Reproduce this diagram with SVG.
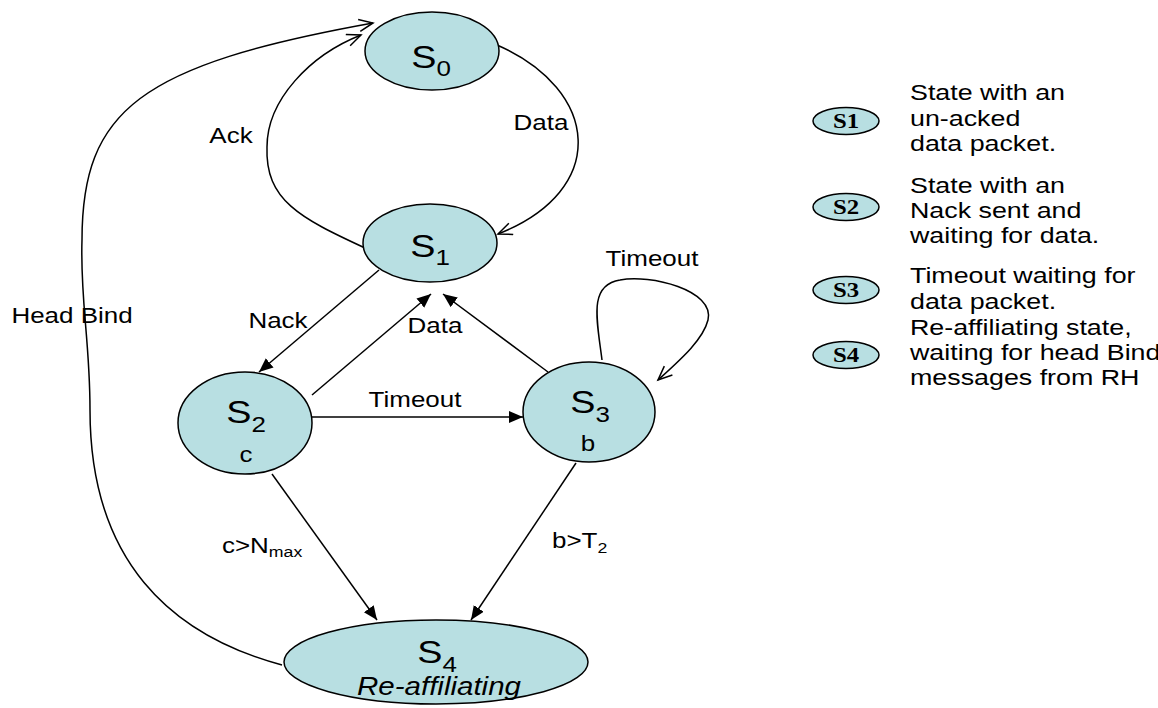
<svg xmlns="http://www.w3.org/2000/svg" width="1158" height="708" viewBox="0 0 1158 708">
  <style>
    .state { fill: #b8dfe2; stroke: #000; stroke-width: 1.5; }
    .edge { fill: none; stroke: #000; stroke-width: 1.5; }
    text { font-family: "Liberation Sans", Arial, sans-serif; fill: #000; }
    .lbl { font-size: 22px; text-anchor: middle; }
    .lbl-start { font-size: 22px; text-anchor: start; }
    .sname { font-size: 32px; text-anchor: middle; }
    .sub { font-size: 22px; }
    .esub { font-size: 15px; }
    .var { font-size: 22px; text-anchor: middle; }
    .ital { font-size: 25px; font-style: italic; text-anchor: middle; }
    .key { font-family: "Liberation Serif", "Times New Roman", serif; font-weight: bold; font-size: 21px; text-anchor: middle; }
    .note { font-size: 22px; }
  </style>
  <defs>
    <marker id="solid" markerUnits="userSpaceOnUse" markerWidth="16" markerHeight="14" refX="14" refY="6" orient="auto">
      <path d="M0,0 L14,6 L0,12 Z" fill="#000"/>
    </marker>
    <marker id="open" markerUnits="userSpaceOnUse" markerWidth="18" markerHeight="16" refX="15" refY="7" orient="auto">
      <path d="M1,1 L15,7 L1,13" fill="none" stroke="#000" stroke-width="1.5"/>
    </marker>
  </defs>

  <rect width="1158" height="708" fill="#fff"/>

  <!-- transitions -->
  <g id="connectors">
    <!-- S0 -> S1 : Data -->
    <path class="edge" d="M497,45 C600,90 610,190 498,234" marker-end="url(#open)"/>
    <!-- S1 -> S0 : Ack -->
    <path class="edge" d="M365,248 C300,218 265,200 267,147 C267,100 310,55 361,35" marker-end="url(#open)"/>
    <!-- S4 -> S0 : Head Bind -->
    <path class="edge" d="M282,665 C170,635 90,560 90,410 C90,340 80,300 82,240 C82,110 140,65 373,23" marker-end="url(#open)"/>
    <!-- S3 -> S3 : Timeout -->
    <path class="edge" d="M602,360 C597,320 588,285 620,280 C650,274 715,290 708,320 C703,340 680,360 658,380" marker-end="url(#open)"/>
    <!-- S1 -> S2 : Nack -->
    <line class="edge" x1="379" y1="270" x2="259" y2="372" marker-end="url(#solid)"/>
    <!-- S2 -> S1 : Data -->
    <line class="edge" x1="312" y1="395" x2="431" y2="294" marker-end="url(#solid)"/>
    <!-- S3 -> S1 -->
    <line class="edge" x1="548" y1="372" x2="443" y2="294" marker-end="url(#solid)"/>
    <!-- S2 -> S3 : Timeout -->
    <line class="edge" x1="312" y1="417" x2="523" y2="417" marker-end="url(#solid)"/>
    <!-- S2 -> S4 -->
    <line class="edge" x1="272" y1="474" x2="377" y2="620" marker-end="url(#solid)"/>
    <!-- S3 -> S4 -->
    <line class="edge" x1="576" y1="463" x2="471" y2="620" marker-end="url(#solid)"/>

    <text class="lbl" transform="matrix(1.18 0 0 1 231 143)">Ack</text>
    <text class="lbl" transform="matrix(1.18 0 0 1 541 130)">Data</text>
    <text class="lbl" transform="matrix(1.18 0 0 1 72 323)">Head Bind</text>
    <text class="lbl" transform="matrix(1.18 0 0 1 278 328)">Nack</text>
    <text class="lbl" transform="matrix(1.18 0 0 1 435 333)">Data</text>
    <text class="lbl" transform="matrix(1.18 0 0 1 652 266)">Timeout</text>
    <text class="lbl" transform="matrix(1.18 0 0 1 415 407)">Timeout</text>
    <text class="lbl-start" transform="matrix(1.18 0 0 1 222 553)">c&gt;N<tspan class="esub" dy="4">max</tspan></text>
    <text class="lbl-start" transform="matrix(1.18 0 0 1 552 548)">b&gt;T<tspan class="esub" dy="5">2</tspan></text>
  </g>

  <!-- states -->
  <g id="S0">
    <ellipse class="state" cx="432" cy="51" rx="67" ry="39"/>
    <text class="sname" transform="matrix(1.18 0 0 1 431 68)">S<tspan class="sub" dy="8">0</tspan></text>
  </g>
  <g id="S1">
    <ellipse class="state" cx="430" cy="243" rx="67" ry="39"/>
    <text class="sname" transform="matrix(1.18 0 0 1 430 257)">S<tspan class="sub" dy="8">1</tspan></text>
  </g>
  <g id="S2">
    <ellipse class="state" cx="245" cy="423" rx="67" ry="51"/>
    <text class="sname" transform="matrix(1.18 0 0 1 246 423)">S<tspan class="sub" dy="9">2</tspan></text>
    <text class="var" transform="matrix(1.18 0 0 1 246 462)">c</text>
  </g>
  <g id="S3">
    <ellipse class="state" cx="589" cy="412" rx="66" ry="50"/>
    <text class="sname" transform="matrix(1.18 0 0 1 590 413)">S<tspan class="sub" dy="9">3</tspan></text>
    <text class="var" transform="matrix(1.18 0 0 1 588 451)">b</text>
  </g>
  <g id="S4">
    <ellipse class="state" cx="436" cy="662" rx="152" ry="42"/>
    <text class="sname" transform="matrix(1.18 0 0 1 437 663)">S<tspan class="sub" dy="9">4</tspan></text>
    <text class="ital" transform="matrix(1.18 0 0 1 439 695)">Re-affiliating</text>
  </g>

  <!-- key -->
  <g id="key-S1">
    <ellipse class="state" cx="846" cy="121" rx="33" ry="13.5"/>
    <text class="key" transform="matrix(1.18 0 0 1 846 128)">S1</text>
    <text class="note" transform="matrix(1.22 0 0 1 910 100)">State with an</text>
    <text class="note" transform="matrix(1.22 0 0 1 910 126)">un-acked</text>
    <text class="note" transform="matrix(1.22 0 0 1 910 151)">data packet.</text>
  </g>
  <g id="key-S2">
    <ellipse class="state" cx="846" cy="207" rx="33" ry="13.5"/>
    <text class="key" transform="matrix(1.18 0 0 1 846 214)">S2</text>
    <text class="note" transform="matrix(1.22 0 0 1 910 193)">State with an</text>
    <text class="note" transform="matrix(1.22 0 0 1 910 218)">Nack sent and</text>
    <text class="note" transform="matrix(1.22 0 0 1 910 243)">waiting for data.</text>
  </g>
  <g id="key-S3">
    <ellipse class="state" cx="846" cy="290" rx="33" ry="13.5"/>
    <text class="key" transform="matrix(1.18 0 0 1 846 297)">S3</text>
    <text class="note" transform="matrix(1.22 0 0 1 910 283)">Timeout waiting for</text>
    <text class="note" transform="matrix(1.22 0 0 1 910 309)">data packet.</text>
  </g>
  <g id="key-S4">
    <ellipse class="state" cx="846" cy="355" rx="33" ry="13.5"/>
    <text class="key" transform="matrix(1.18 0 0 1 846 362)">S4</text>
    <text class="note" transform="matrix(1.22 0 0 1 910 335)">Re-affiliating state,</text>
    <text class="note" transform="matrix(1.22 0 0 1 910 360)">waiting for head Bind</text>
    <text class="note" transform="matrix(1.22 0 0 1 910 385)">messages from RH</text>
  </g>
</svg>
